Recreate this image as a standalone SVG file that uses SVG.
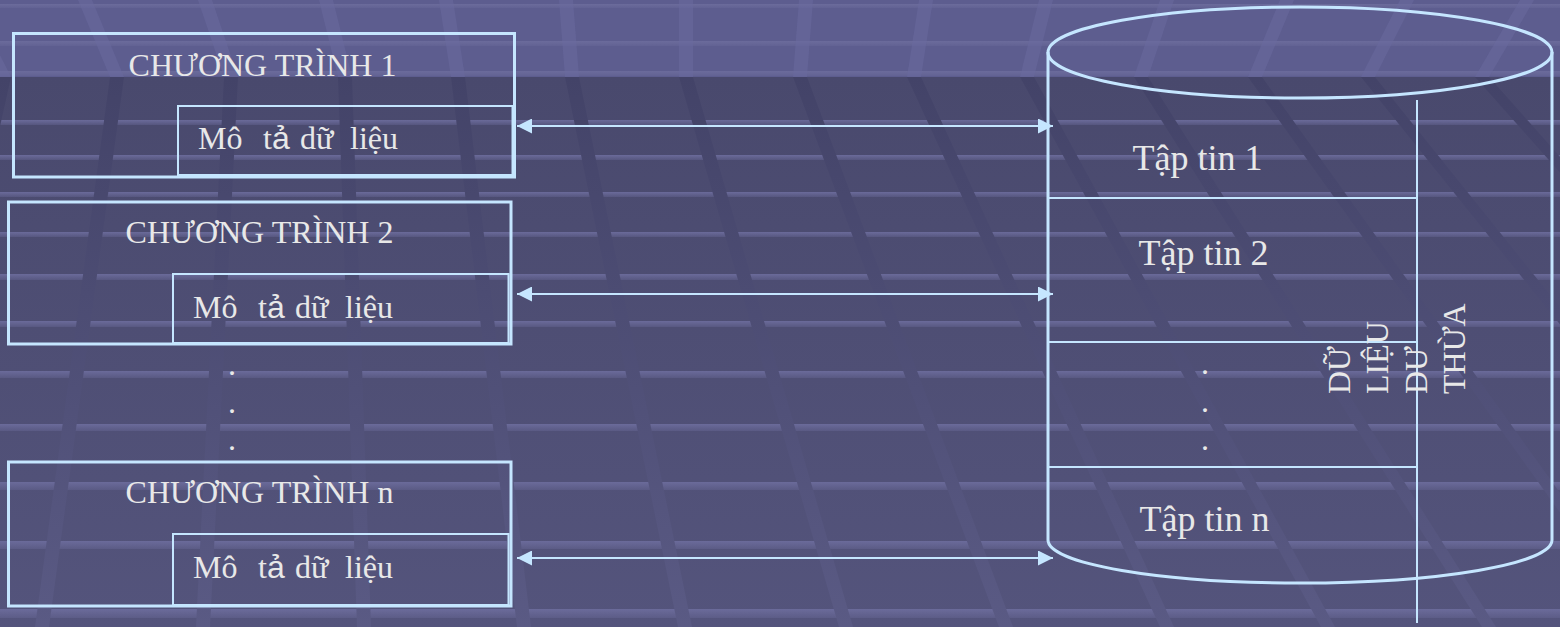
<svg xmlns="http://www.w3.org/2000/svg" width="1560" height="627" viewBox="0 0 1560 627">
  <defs>
    <style>
      .frame{fill:none;stroke:#c5e6ff;stroke-width:3}
      .sub{fill:none;stroke:#c5e6ff;stroke-width:2}
      .rule{stroke:#c5e6ff;stroke-width:2;fill:none}
      .wire{stroke:#c5e6ff;stroke-width:2;fill:none;marker-start:url(#head);marker-end:url(#head)}
      .lbl{font-family:"Liberation Serif","Times New Roman",serif;font-size:32px;fill:#e8e8e8}
      .big{font-size:36px}
      .sans{font-family:"Liberation Sans",Arial,sans-serif}
      .cstripe{fill:url(#stripeFade)}
      .fstripe{fill:url(#stripeFade)}
      .cband{fill:#6a6a9e;opacity:0.55}
      .fband{fill:url(#bandShade)}
    </style>
    <linearGradient id="floorShade" x1="0" y1="77" x2="0" y2="627" gradientUnits="userSpaceOnUse">
      <stop offset="0" stop-color="#49496d"/>
      <stop offset="1" stop-color="#54547c"/>
    </linearGradient>
    <linearGradient id="bandShade" x1="0" y1="77" x2="0" y2="627" gradientUnits="userSpaceOnUse">
      <stop offset="0" stop-color="#434368"/>
      <stop offset="1" stop-color="#5a5a84"/>
    </linearGradient>
    <linearGradient id="stripeFade" x1="0" y1="0" x2="0" y2="1">
      <stop offset="0" stop-color="#6c6c9c" stop-opacity="0.95"/>
      <stop offset="1" stop-color="#6c6c9c" stop-opacity="0.35"/>
    </linearGradient>
    <marker id="head" viewBox="0 0 15 15" refX="15" refY="7.5" markerWidth="15" markerHeight="15" markerUnits="userSpaceOnUse" orient="auto-start-reverse">
      <path d="M0,0 L15,7.5 L0,15 z" fill="#c5e6ff"/>
    </marker>
  </defs>

  <!-- perspective backdrop: ceiling band and tiled floor -->
  <g id="backdrop">
    <rect x="0" y="0" width="1560" height="77" fill="#5d5d8f"/>
    <rect x="0" y="77" width="1560" height="550" fill="url(#floorShade)"/>
    <rect class="cstripe" x="0" y="4" width="1560" height="4"/>
    <rect class="cstripe" x="0" y="41" width="1560" height="5"/>
    <rect class="cstripe" x="0" y="71" width="1560" height="5"/>
    <rect class="fstripe" x="0" y="120" width="1560" height="5"/>
    <rect class="fstripe" x="0" y="155" width="1560" height="5"/>
    <rect class="fstripe" x="0" y="192" width="1560" height="5"/>
    <rect class="fstripe" x="0" y="232" width="1560" height="5"/>
    <rect class="fstripe" x="0" y="274" width="1560" height="6"/>
    <rect class="fstripe" x="0" y="321" width="1560" height="6"/>
    <rect class="fstripe" x="0" y="371" width="1560" height="7"/>
    <rect class="fstripe" x="0" y="424" width="1560" height="7"/>
    <rect class="fstripe" x="0" y="482" width="1560" height="8"/>
    <rect class="fstripe" x="0" y="541" width="1560" height="8"/>
    <rect class="fstripe" x="0" y="609" width="1560" height="9"/>
    <!-- ceiling rays -->
    <polygon class="cband" points="-42,0 -28,0 11,77 -3,77"/>
    <polygon class="cband" points="78,0 92,0 124,77 110,77"/>
    <polygon class="cband" points="198,0 212,0 238,77 224,77"/>
    <polygon class="cband" points="319,0 333,0 352,77 338,77"/>
    <polygon class="cband" points="439,0 453,0 465,77 451,77"/>
    <polygon class="cband" points="559,0 573,0 579,77 565,77"/>
    <polygon class="cband" points="679,0 693,0 693,77 679,77"/>
    <polygon class="cband" points="799,0 813,0 807,77 793,77"/>
    <polygon class="cband" points="919,0 933,0 921,77 907,77"/>
    <polygon class="cband" points="1039,0 1053,0 1034,77 1020,77"/>
    <polygon class="cband" points="1160,0 1174,0 1148,77 1134,77"/>
    <polygon class="cband" points="1280,0 1294,0 1262,77 1248,77"/>
    <polygon class="cband" points="1400,0 1414,0 1375,77 1361,77"/>
    <polygon class="cband" points="1520,0 1534,0 1489,77 1475,77"/>
    <!-- floor rays -->
    <polygon class="fband" points="-3,77 11,77 -111,627 -125,627"/>
    <polygon class="fband" points="110,77 124,77 49,627 35,627"/>
    <polygon class="fband" points="224,77 238,77 210,627 196,627"/>
    <polygon class="fband" points="338,77 352,77 371,627 357,627"/>
    <polygon class="fband" points="451,77 465,77 531,627 517,627"/>
    <polygon class="fband" points="565,77 579,77 692,627 678,627"/>
    <polygon class="fband" points="679,77 693,77 853,627 839,627"/>
    <polygon class="fband" points="793,77 807,77 1013,627 999,627"/>
    <polygon class="fband" points="907,77 921,77 1174,627 1160,627"/>
    <polygon class="fband" points="1020,77 1034,77 1335,627 1321,627"/>
    <polygon class="fband" points="1134,77 1148,77 1496,627 1482,627"/>
    <polygon class="fband" points="1248,77 1262,77 1656,627 1642,627"/>
    <polygon class="fband" points="1361,77 1375,77 1817,627 1803,627"/>
    <polygon class="fband" points="1475,77 1489,77 1978,627 1964,627"/>
  </g>

  <!-- program 1 -->
  <g id="prog1">
    <rect class="frame" x="13.5" y="33.5" width="501" height="143.5"/>
    <rect class="sub" x="178" y="106" width="334.5" height="69"/>
    <text class="lbl" x="262.5" y="76" text-anchor="middle">CHƯƠNG TRÌNH 1</text>
    <text class="lbl" y="149"><tspan x="198">Mô </tspan><tspan x="263">t<tspan class="sans">ả</tspan> </tspan><tspan x="300">dữ </tspan><tspan x="350">liệu</tspan></text>
  </g>

  <!-- program 2 -->
  <g id="prog2">
    <rect class="frame" x="8.5" y="202" width="502.5" height="142"/>
    <rect class="sub" x="173" y="274" width="335.5" height="69"/>
    <text class="lbl" x="259.5" y="243" text-anchor="middle">CHƯƠNG TRÌNH 2</text>
    <text class="lbl" y="318"><tspan x="193">Mô </tspan><tspan x="258">t<tspan class="sans">ả</tspan> </tspan><tspan x="295">dữ </tspan><tspan x="345">liệu</tspan></text>
  </g>

  <!-- ellipsis between programs -->
  <g id="prog-gap">
    <text class="lbl" x="232" y="375" text-anchor="middle">.</text>
    <text class="lbl" x="232" y="413" text-anchor="middle">.</text>
    <text class="lbl" x="232" y="450" text-anchor="middle">.</text>
  </g>

  <!-- program n -->
  <g id="progn">
    <rect class="frame" x="8.5" y="462" width="502.5" height="144"/>
    <rect class="sub" x="173" y="534" width="335.5" height="71"/>
    <text class="lbl" x="259.5" y="503" text-anchor="middle">CHƯƠNG TRÌNH n</text>
    <text class="lbl" y="578"><tspan x="193">Mô </tspan><tspan x="258">t<tspan class="sans">ả</tspan> </tspan><tspan x="295">dữ </tspan><tspan x="345">liệu</tspan></text>
  </g>

  <!-- shared data store -->
  <g id="datastore">
    <path class="frame" d="M1048,52 V540 A252,43 0 0 0 1552,540 V52"/>
    <ellipse class="frame" cx="1300" cy="52.5" rx="252" ry="45.5"/>
    <line class="rule" x1="1417" y1="100" x2="1417" y2="623"/>
    <line class="rule" x1="1048" y1="198" x2="1417" y2="198"/>
    <line class="rule" x1="1048" y1="342" x2="1417" y2="342"/>
    <line class="rule" x1="1048" y1="467" x2="1417" y2="467"/>
    <text class="lbl big" x="1132.5" y="170">Tập tin 1</text>
    <text class="lbl big" x="1138.5" y="265">Tập tin 2</text>
    <text class="lbl" x="1205" y="374" text-anchor="middle">.</text>
    <text class="lbl" x="1205" y="412" text-anchor="middle">.</text>
    <text class="lbl" x="1205" y="450" text-anchor="middle">.</text>
    <text class="lbl big" x="1139.5" y="531">Tập tin n</text>
    <text class="lbl" transform="translate(1350 394) rotate(-90)"><tspan x="0" y="0">DỮ</tspan><tspan x="0" y="38.3">LIỆU</tspan><tspan x="0" y="76.6">DƯ</tspan><tspan x="0" y="115">THỪA</tspan></text>
  </g>

  <!-- two-way links between each program and the store -->
  <g id="connectors">
    <line class="wire" x1="517" y1="126" x2="1053" y2="126"/>
    <line class="wire" x1="517" y1="294" x2="1053" y2="294"/>
    <line class="wire" x1="517" y1="558" x2="1053" y2="558"/>
  </g>
</svg>
